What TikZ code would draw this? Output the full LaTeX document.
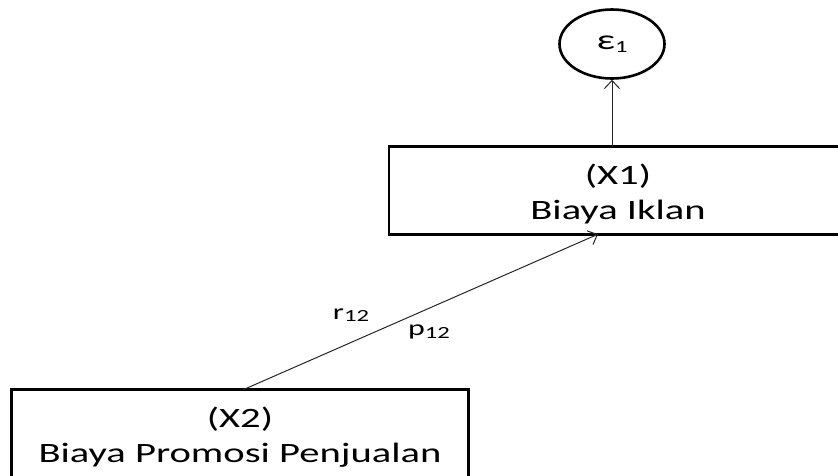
\documentclass[tikz,border=0pt]{standalone}
\usepackage{fontspec}
\setmainfont{Carlito}[FakeStretch=1.45]
\usetikzlibrary{arrows.meta,shapes.geometric}
\tikzset{
  varbox/.style={rectangle, inner sep=0pt},
  boxline/.style={draw=black, line width=2.8pt, line join=miter},
  vartext/.style={align=center, inner sep=0pt, font=\fontsize{28}{35}\selectfont},
  errnode/.style={draw=black, line width=2.6pt, ellipse, inner sep=0pt,
    minimum width=105pt, minimum height=69pt, font=\fontsize{28}{32}\selectfont},
  pathline/.style={draw=black!85, line width=1pt, -{Straight Barb[length=8pt,width=15pt]}},
  coef/.style={font=\fontsize{22}{26}\selectfont, inner sep=0pt}
}
\newcommand{\subidx}[1]{{\fontsize{17}{20}\selectfont\raisebox{-2.5pt}{#1}}}
\begin{document}
\begin{tikzpicture}[x=1pt,y=-1pt]
  \useasboundingbox[fill=white] (0,0) rectangle (838,475);
  \clip (0,0) rectangle (838,475);
  % variables: the first box runs past the right edge, the second past the bottom
  \node[varbox, anchor=west, minimum width=520pt, minimum height=87pt] (x1) at (389,190.5) {};
  \draw[boxline] (x1.north east) -- (x1.north west) -- (x1.south west) -- (x1.south east);
  \node[vartext] (x1t) at (618,194) {(X1)\\Biaya Iklan};
  \node[varbox, minimum width=456pt, minimum height=88pt] (x2) at (240,434) {};
  \draw[boxline] (x2.south west) -- (x2.north west) -- (x2.north east) -- (x2.south east);
  \node[vartext] (x2t) at (240,437) {(X2)\\Biaya Promosi Penjualan};
  % residual
  \node[errnode] (e1) at (612,44) {ε\subidx{1}};
  % paths
  \draw[pathline] (x1.north -| e1.south) -- (e1.south);
  \draw[pathline] ([xshift=3pt]x2.north) -- (x1.south -| 598,0);
  % coefficients
  \node[coef] (r12) at (351,315) {r\subidx{12}};
  \node[coef] (p12) at (429,332) {p\subidx{12}};
\end{tikzpicture}
\end{document}
